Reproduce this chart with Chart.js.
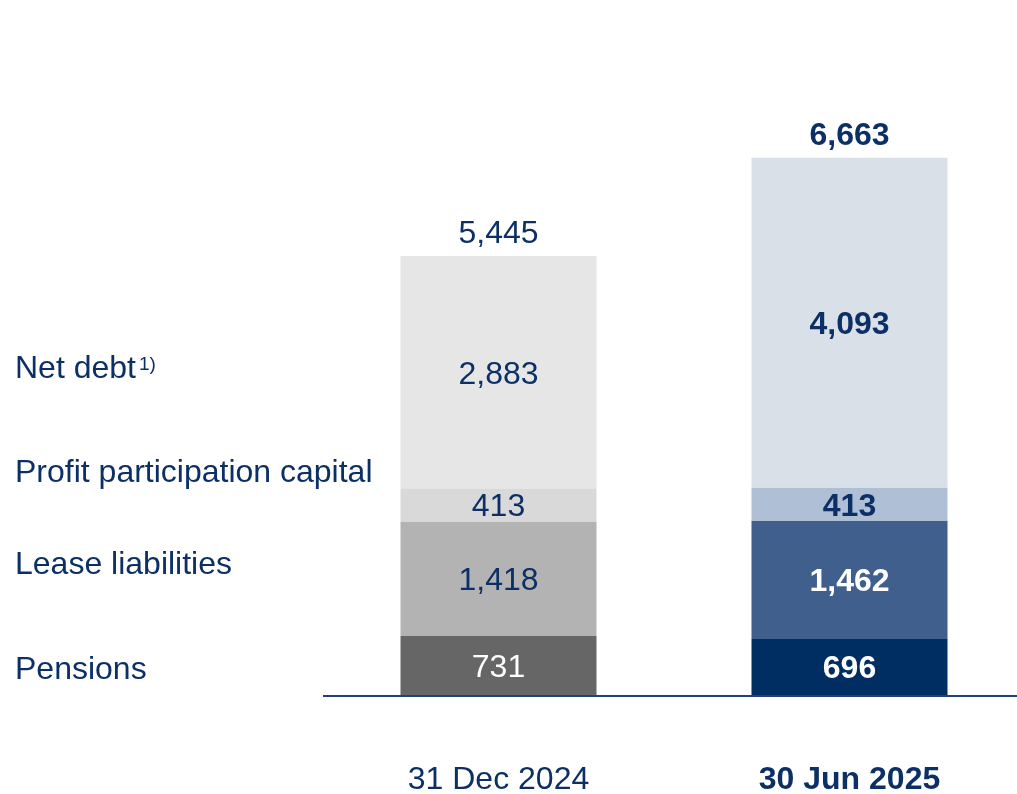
<!DOCTYPE html>
<html>
<head>
<meta charset="utf-8">
<script src="https://cdn.jsdelivr.net/npm/chart.js@4.4.1/dist/chart.umd.min.js"></script>
<style>
html,body{margin:0;padding:0;background:#fff;overflow:hidden;width:1017px;height:794px;}
#wrap{position:relative;width:1030px;height:794px;}
</style>
</head>
<body>
<div id="wrap"><canvas id="c" width="1030" height="794"></canvas></div>
<script>
const categories = ['31 Dec 2024', '30 Jun 2025'];
const seriesNames = ['Pensions', 'Lease liabilities', 'Profit participation capital', 'Net debt'];
const pensions = [731, 696];
const leaseLiabilities = [1418, 1462];
const profitParticipation = [413, 413];
const netDebt = [2883, 4093];
const totals = [5445, 6663];

const colorsPensions = ['#666666', '#002d62'];
const colorsLease = ['#b3b3b3', '#405f8c'];
const colorsPPC = ['#d9d9d9', '#aebfd6'];
const colorsNetDebt = ['#e6e6e6', '#dae0e8'];
const labelColorsPensions = ['#ffffff', '#ffffff'];
const labelColorsLease = ['#0c3066', '#ffffff'];
const labelColorsPPC = ['#0c3066', '#0c3066'];
const labelColorsNetDebt = ['#0c3066', '#0c3066'];

const NAVY = '#0c3066';
const FONT = '"Liberation Sans", Arial, sans-serif';
const SIZE = 32;
const fmt = v => v.toLocaleString('en-US');

const valueLabels = {
  id: 'valueLabels',
  afterDatasetsDraw(chart) {
    const ctx = chart.ctx;
    ctx.save();
    ctx.textAlign = 'center';
    ctx.textBaseline = 'middle';
    chart.data.datasets.forEach((ds, di) => {
      const meta = chart.getDatasetMeta(di);
      meta.data.forEach((bar, i) => {
        const p = bar.getProps(['x', 'y', 'base'], true);
        ctx.font = (i === 1 ? 'bold ' : '') + SIZE + 'px ' + FONT;
        ctx.fillStyle = ds.labelColors[i];
        ctx.fillText(fmt(ds.data[i]), p.x, (p.y + p.base) / 2 + 2.5);
      });
    });
    const top = chart.getDatasetMeta(chart.data.datasets.length - 1);
    top.data.forEach((bar, i) => {
      const p = bar.getProps(['x'], true);
      const y = chart.scales.y.getPixelForValue(totals[i]);
      ctx.font = (i === 1 ? 'bold ' : '') + SIZE + 'px ' + FONT;
      ctx.fillStyle = NAVY;
      ctx.fillText(fmt(totals[i]), p.x, y - 21.5);
    });
    ctx.textAlign = 'left';
    const leftNames = [
      {t: seriesNames[0], y: 670},
      {t: seriesNames[1], y: 565},
      {t: seriesNames[2], y: 473},
      {t: seriesNames[3], y: 369, sup: '1)'}
    ];
    ctx.fillStyle = NAVY;
    leftNames.forEach(n => {
      ctx.font = SIZE + 'px ' + FONT;
      ctx.fillText(n.t, 15, n.y);
      if (n.sup) {
        const w = ctx.measureText(n.t).width;
        ctx.font = '19px ' + FONT;
        ctx.fillText(n.sup, 15 + w + 3, n.y - 4);
      }
    });
    ctx.restore();
  }
};

const baseLine = {
  id: 'baseLine',
  afterDatasetsDraw(chart) {
    const ctx = chart.ctx;
    const y = chart.scales.y.getPixelForValue(0);
    ctx.save();
    ctx.strokeStyle = '#21427a';
    ctx.lineWidth = 2;
    ctx.beginPath();
    ctx.moveTo(323, y + 1);
    ctx.lineTo(chart.width, y + 1);
    ctx.stroke();
    ctx.restore();
  }
};

new Chart(document.getElementById('c'), {
  type: 'bar',
  data: {
    labels: categories,
    datasets: [
      {label: seriesNames[0], data: pensions, backgroundColor: colorsPensions, labelColors: labelColorsPensions},
      {label: seriesNames[1], data: leaseLiabilities, backgroundColor: colorsLease, labelColors: labelColorsLease},
      {label: seriesNames[2], data: profitParticipation, backgroundColor: colorsPPC, labelColors: labelColorsPPC},
      {label: seriesNames[3], data: netDebt, backgroundColor: colorsNetDebt, labelColors: labelColorsNetDebt}
    ]
  },
  options: {
    responsive: false,
    animation: false,
    devicePixelRatio: 1,
    layout: {padding: {left: 323, right: 5, top: 50, bottom: 0}},
    datasets: {bar: {categoryPercentage: 1, barPercentage: 196 / 351, borderWidth: 0}},
    plugins: {legend: {display: false}, tooltip: {enabled: false}},
    scales: {
      x: {
        stacked: true,
        grid: {display: false, drawTicks: false},
        border: {display: false},
        afterFit: s => { s.height = 99; },
        ticks: {
          padding: 66,
          maxRotation: 0,
          color: NAVY,
          font: ctx => ({family: FONT, size: SIZE, weight: ctx.index === 1 ? 'bold' : 'normal'})
        }
      },
      y: {
        stacked: true,
        display: false,
        min: 0,
        max: 8000
      }
    }
  },
  plugins: [valueLabels, baseLine]
});
</script>
</body>
</html>
